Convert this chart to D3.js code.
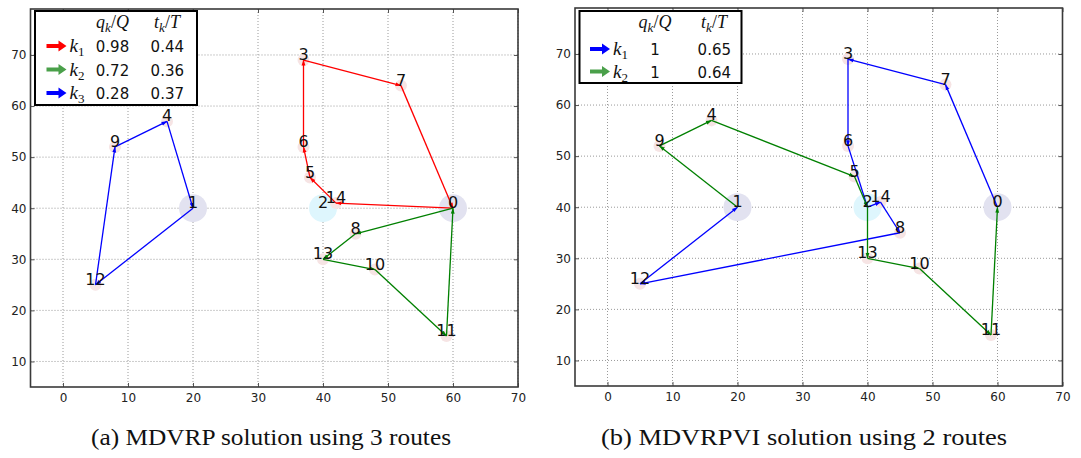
<!DOCTYPE html>
<html><head><meta charset="utf-8">
<script src="https://cdn.jsdelivr.net/npm/d3@7"></script>
<style>body{margin:0;background:#fff} svg{display:block}</style>
</head><body>
<svg id="chart" width="1081" height="458"></svg>
<script>
// ---------- data ----------
const nodeIds = [0,1,2,3,4,5,6,7,8,9,10,11,12,13,14];
const nodeX   = [60,20,40,37,16,38,37,52,45,8,48,59,5,40,42];
const nodeY   = [40,40,40,69,57,46,52,64,35,52,28,15,25,30,41];
const mainDepots = [0,1];
const intermediateDepots = [2];
const routesA = [[0,14,5,6,3,7,0],[0,8,13,10,11,0],[1,12,9,4,1]];
const routesB = [[0,7,3,6,2,14,8,12,1],[1,9,4,5,2,13,10,11,0]];
const routeColorsA = ["#ff0000","#008000","#0000ff"];
const routeColorsB = ["#0000ff","#008000"];
const legendColorsA = ["#ff0000","#4aa04a","#0000ff"];
const legendColorsB = ["#0000ff","#4aa04a"];
const legendLoadA = ["0.98","0.72","0.28"];
const legendTimeA = ["0.44","0.36","0.37"];
const legendLoadB = ["1","1"];
const legendTimeB = ["0.65","0.64"];
const xTicks = [0,10,20,30,40,50,60,70];
const yTicks = [10,20,30,40,50,60,70];
const xDomain = [-5,70];
const yDomain = [5,79];
const captions = ["(a) MDVRP solution using 3 routes","(b) MDVRPVI solution using 2 routes"];

// ---------- drawing ----------
const svg = d3.select("#chart");
const defs = svg.append("defs");
const allColors = Array.from(new Set([...routeColorsA, ...routeColorsB]));
allColors.forEach(c => {
  defs.append("marker")
    .attr("id", "arr" + c.slice(1))
    .attr("viewBox", "0 -3 6 6")
    .attr("refX", 5.5).attr("refY", 0)
    .attr("markerUnits", "userSpaceOnUse")
    .attr("markerWidth", 6).attr("markerHeight", 6)
    .attr("orient", "auto")
    .append("path").attr("d", "M0,-1.9L6,0L0,1.9Z").attr("fill", c);
});

function panel(cfg) {
  const x = d3.scaleLinear(xDomain, cfg.xr);
  const y = d3.scaleLinear(yDomain, cfg.yr);
  const g = svg.append("g");
  const [x0, x1] = cfg.xr, [y1, y0] = cfg.yr;

  // grid
  g.append("g").selectAll("line").data(xTicks).join("line")
    .attr("x1", d => x(d)).attr("x2", d => x(d)).attr("y1", y0).attr("y2", y1)
    .attr("stroke", "#9a9a9a").attr("stroke-width", 1).attr("stroke-dasharray", "1,2");
  g.append("g").selectAll("line").data(yTicks).join("line")
    .attr("y1", d => y(d)).attr("y2", d => y(d)).attr("x1", x0).attr("x2", x1)
    .attr("stroke", "#9a9a9a").attr("stroke-width", 1).attr("stroke-dasharray", "1,2");

  // axes
  const styleAxis = sel => {
    sel.select(".domain").remove();
    sel.selectAll(".tick line").attr("stroke", "#555");
    sel.selectAll("text").attr("font-family", "DejaVu Sans").attr("font-size", 12).attr("fill", "#222");
  };
  g.append("g").attr("transform", `translate(0,${y1})`)
    .call(d3.axisBottom(x).tickValues(xTicks).tickSize(-4).tickPadding(6)).call(styleAxis);
  g.append("g").attr("transform", `translate(0,${y0})`)
    .call(d3.axisTop(x).tickValues(xTicks).tickSize(-4).tickFormat("")).call(styleAxis);
  g.append("g").attr("transform", `translate(${x0},0)`)
    .call(d3.axisLeft(y).tickValues(yTicks).tickSize(-4).tickPadding(4)).call(styleAxis);
  g.append("g").attr("transform", `translate(${x1},0)`)
    .call(d3.axisRight(y).tickValues(yTicks).tickSize(-4).tickFormat("")).call(styleAxis);

  // depots
  g.append("g").selectAll("circle").data(mainDepots).join("circle")
    .attr("cx", d => x(nodeX[d])).attr("cy", d => y(nodeY[d])).attr("r", 14)
    .attr("fill", "#e2e2f0");
  g.append("g").selectAll("circle").data(intermediateDepots).join("circle")
    .attr("cx", d => x(nodeX[d])).attr("cy", d => y(nodeY[d])).attr("r", 14)
    .attr("fill", "#def6fd");
  const customers = nodeIds.filter(d => !mainDepots.includes(d) && !intermediateDepots.includes(d));
  g.append("g").selectAll("circle").data(customers).join("circle")
    .attr("cx", d => x(nodeX[d])).attr("cy", d => y(nodeY[d])).attr("r", 6)
    .attr("fill", "#f6e4e4");

  // routes
  cfg.routes.forEach((r, i) => {
    const c = cfg.colors[i];
    const segs = d3.pairs(r);
    g.append("g").selectAll("line").data(segs).join("line")
      .attr("x1", d => x(nodeX[d[0]])).attr("y1", d => y(nodeY[d[0]]))
      .attr("x2", d => x(nodeX[d[1]])).attr("y2", d => y(nodeY[d[1]]))
      .attr("stroke", c).attr("stroke-width", 1.3)
      .attr("marker-end", `url(#arr${c.slice(1)})`);
  });

  // labels
  g.append("g").selectAll("text").data(nodeIds).join("text")
    .attr("x", d => x(nodeX[d])).attr("y", d => y(nodeY[d]))
    .attr("text-anchor", "middle").attr("font-family", "DejaVu Sans").attr("font-size", 16)
    .attr("fill", "#111").text(d => d);

  // frame
  g.append("rect").attr("x", x0).attr("y", y0).attr("width", x1 - x0).attr("height", y1 - y0)
    .attr("fill", "none").attr("stroke", "#3a3a3a").attr("stroke-width", 1.6);

  // legend
  const L = cfg.legend;
  const lg = g.append("g");
  lg.append("rect").attr("x", L.x).attr("y", L.y).attr("width", L.w).attr("height", L.h)
    .attr("fill", "#fff").attr("stroke", "#000").attr("stroke-width", 2);
  const mathFont = "Liberation Serif";
  const header = (hx, base, sym) => {
    const t = lg.append("text").attr("x", hx).attr("y", L.headY).attr("text-anchor", "middle")
      .attr("font-family", mathFont).attr("font-size", 18).attr("fill", "#111");
    t.append("tspan").attr("font-style", "italic").text(base);
    t.append("tspan").attr("font-style", "italic").attr("font-size", 13).attr("dy", 4).text("k");
    t.append("tspan").attr("dy", -4).text("/");
    t.append("tspan").attr("font-style", "italic").text(sym);
  };
  header(L.c1, "q", "Q");
  header(L.c2x, "t", "T");
  cfg.colors.forEach((c, i) => {
    const cy = L.rowY[i];
    const ax = L.arrowX;
    lg.append("path")
      .attr("d", `M${ax},${cy-2}L${ax+12},${cy-2}L${ax+12},${cy-5.5}L${ax+20},${cy}L${ax+12},${cy+5.5}L${ax+12},${cy+2}L${ax},${cy+2}Z`)
      .attr("fill", cfg.legendColors[i]);
    const kt = lg.append("text").attr("x", ax + 23).attr("y", cy + 6)
      .attr("font-family", mathFont).attr("font-size", 19).attr("fill", "#111");
    kt.append("tspan").attr("font-style", "italic").text("k");
    kt.append("tspan").attr("font-size", 13).attr("dy", 4).text(String(i + 1));
    lg.append("text").attr("x", L.c1).attr("y", cy + 6).attr("text-anchor", "middle")
      .attr("font-family", "DejaVu Sans").attr("font-size", 15).attr("fill", "#111").text(cfg.load[i]);
    lg.append("text").attr("x", L.c2).attr("y", cy + 6).attr("text-anchor", "end")
      .attr("font-family", "DejaVu Sans").attr("font-size", 15).attr("fill", "#111").text(cfg.time[i]);
  });

  // caption
  svg.append("text").attr("x", cfg.capX).attr("y", 445).attr("text-anchor", "middle")
    .attr("font-family", "Liberation Serif").attr("font-size", 24).attr("fill", "#111")
    .attr("textLength", cfg.capW).attr("lengthAdjust", "spacingAndGlyphs")
    .text(cfg.caption);
}

panel({
  xr: [30.5, 518], yr: [387, 9], routes: routesA, colors: routeColorsA, legendColors: legendColorsA,
  load: legendLoadA, time: legendTimeA, caption: captions[0], capX: 271, capW: 360,
  legend: {x: 35, y: 11, w: 162, h: 94, headY: 28, rowY: [46, 69.5, 93], arrowX: 46.5, c1: 112.5, c2: 184, c2x: 167}
});
panel({
  xr: [575, 1062.5], yr: [386, 8], routes: routesB, colors: routeColorsB, legendColors: legendColorsB,
  load: legendLoadB, time: legendTimeB, caption: captions[1], capX: 804, capW: 406,
  legend: {x: 579.5, y: 11, w: 162, h: 72, headY: 28, rowY: [49, 71.5], arrowX: 590, c1: 655, c2: 731, c2x: 714}
});
</script>
</body></html>
